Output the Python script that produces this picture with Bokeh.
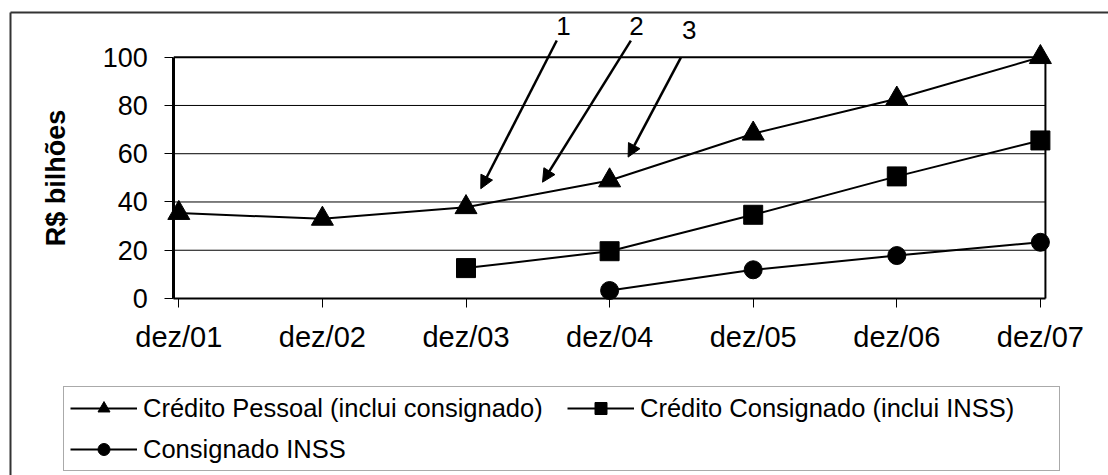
from bokeh.plotting import figure
from bokeh.models import (FixedTicker, Range1d, Legend, LegendItem, Arrow, NormalHead,
                          ColumnDataSource, LinearAxis)
from bokeh.core.properties import value
from bokeh.embed import file_html
from bokeh.resources import INLINE

# ---- data (R$ bilhões, end-of-year stocks) ----
categories = ["dez/01", "dez/02", "dez/03", "dez/04", "dez/05", "dez/06", "dez/07"]
credito_pessoal = [35.4, 33.0, 37.8, 48.9, 68.3, 82.8, 100.0]
credito_consignado = [None, None, 12.6, 19.6, 34.7, 50.6, 65.5]
consignado_inss = [None, None, None, 3.3, 11.9, 17.8, 23.3]
y_ticks = [0, 20, 40, 60, 80, 100]

# numbered callouts: label position, arrow tail and arrow tip in chart units
callout_labels = ["1", "2", "3"]
callout_label_x = [2.678, 3.188, 3.554]
callout_label_y = [113.1, 113.1, 111.4]
callout_tail_x = [2.632, 3.148, 3.496]
callout_tail_y = [106.9, 106.9, 99.8]
callout_tip_x = [2.103, 2.533, 3.129]
callout_tip_y = [45.5, 48.2, 58.6]

FONT = "Liberation Sans"
W, H = 1108, 475
# plot area: category axis spans X_START..X_END, value axis 0..100
X_START, X_END = -0.035, 6.035
PX_PER_X = 143.6      # pixels per category step
PX_PER_Y = 2.413      # pixels per R$ bilhão
X0_PX, Y0_PX = 178.3, 298.0   # canvas position of (dez/01, 0)

x_lo, x_hi = -X0_PX / PX_PER_X, (W - X0_PX) / PX_PER_X
y_lo, y_hi = -(H - Y0_PX) / PX_PER_Y, Y0_PX / PX_PER_Y

# the frame covers the whole canvas; axes are pinned inside it
p = figure(width=W, height=H, output_backend="svg", toolbar_location=None,
           x_range=Range1d(x_lo, x_hi), y_range=Range1d(y_lo, y_hi),
           x_axis_location=None, y_axis_location=None,
           min_border=0, min_border_left=0, min_border_right=0,
           min_border_top=0, min_border_bottom=0)
p.outline_line_color = None
p.background_fill_color = "white"
p.border_fill_color = "white"
p.xgrid.grid_line_color = None
p.ygrid.grid_line_color = None

# category axis
xaxis = LinearAxis(fixed_location=0, bounds=(X_START, X_END),
                   ticker=FixedTicker(ticks=list(range(len(categories)))),
                   major_label_overrides={i: c for i, c in enumerate(categories)})
xaxis.major_label_text_font = FONT
xaxis.major_label_text_font_size = "29px"
xaxis.major_label_text_color = "black"
xaxis.major_label_standoff = 13
xaxis.major_tick_out = 9
xaxis.major_tick_in = 0
xaxis.minor_tick_line_color = None
xaxis.axis_line_width = 2
xaxis.axis_line_color = "black"
xaxis.major_tick_line_color = "black"
p.add_layout(xaxis, "below")

# value axis
yaxis = LinearAxis(fixed_location=X_START, bounds=(y_ticks[0], y_ticks[-1]),
                   ticker=FixedTicker(ticks=y_ticks))
yaxis.major_label_text_font = FONT
yaxis.major_label_text_font_size = "27px"
yaxis.major_label_text_color = "black"
yaxis.major_label_standoff = 17
yaxis.major_tick_out = 9
yaxis.major_tick_in = 0
yaxis.minor_tick_line_color = None
yaxis.axis_line_width = 3
yaxis.axis_line_color = "black"
yaxis.major_tick_line_color = "black"
yaxis.axis_label = "R$ bilhões"
yaxis.axis_label_text_font = FONT
yaxis.axis_label_text_font_style = "bold"
yaxis.axis_label_text_font_size = "27px"
yaxis.axis_label_text_color = "black"
yaxis.axis_label_standoff = 28
p.add_layout(yaxis, "left")

# outer chart border: left and top edges (the others run past the canvas)
bx = x_lo + 10 / PX_PER_X
by = y_hi - 12 / PX_PER_Y
p.segment(x0=[bx, bx], y0=[by, by], x1=[bx, x_hi], y1=[y_lo, by],
          line_color="#333333", line_width=2)

# horizontal gridlines at the inner ticks, limited to the plot area
grid_y = y_ticks[1:-1]
p.segment(x0=[X_START] * len(grid_y), y0=grid_y, x1=[X_END] * len(grid_y), y1=grid_y,
          line_color="black", line_width=1)

# plot-area border: top edge at the axis maximum, right edge at the last category
p.segment(x0=[X_START], y0=[y_ticks[-1]], x1=[X_END], y1=[y_ticks[-1]],
          line_color="black", line_width=2)
p.segment(x0=[X_END], y0=[y_ticks[0]], x1=[X_END], y1=[y_ticks[-1]],
          line_color="black", line_width=2)


def series(values):
    xs = [i for i, v in enumerate(values) if v is not None]
    ys = [v for v in values if v is not None]
    return ColumnDataSource(dict(x=xs, y=ys))


items = []
for label, vals, marker, size in [
    ("Crédito Pessoal (inclui consignado)", credito_pessoal, "triangle", 22),
    ("Crédito Consignado (inclui INSS)", credito_consignado, "square", 19),
    ("Consignado INSS", consignado_inss, "circle", 18),
]:
    src = series(vals)
    lr = p.line("x", "y", source=src, line_color="black", line_width=2)
    mr = p.scatter("x", "y", source=src, marker=marker, size=size,
                   fill_color="black", line_color="black")
    items.append(LegendItem(label=label, renderers=[lr, mr]))

# numbered callout arrows
for i in range(len(callout_labels)):
    p.add_layout(Arrow(x_start=callout_tail_x[i], y_start=callout_tail_y[i],
                       x_end=callout_tip_x[i], y_end=callout_tip_y[i],
                       line_color="black", line_width=2.5,
                       end=NormalHead(size=13, fill_color="black", line_color="black")))
p.text(x=callout_label_x, y=callout_label_y, text=callout_labels,
       text_font=value(FONT), text_font_size="26px", text_color="black",
       text_align="center", text_baseline="middle")

legend = Legend(items=items, location=(63, 4), orientation="horizontal", nrows=2,
                label_text_font=FONT, label_text_font_size="25.5px", label_text_color="black",
                glyph_width=67, glyph_height=30, label_height=30, label_width=413,
                label_standoff=6, spacing=11, padding=6, margin=0,
                border_line_color="#555555", border_line_width=1,
                background_fill_color="white", background_fill_alpha=1)
p.add_layout(legend, "center")

open("out.html", "w").write(file_html(p, INLINE))
